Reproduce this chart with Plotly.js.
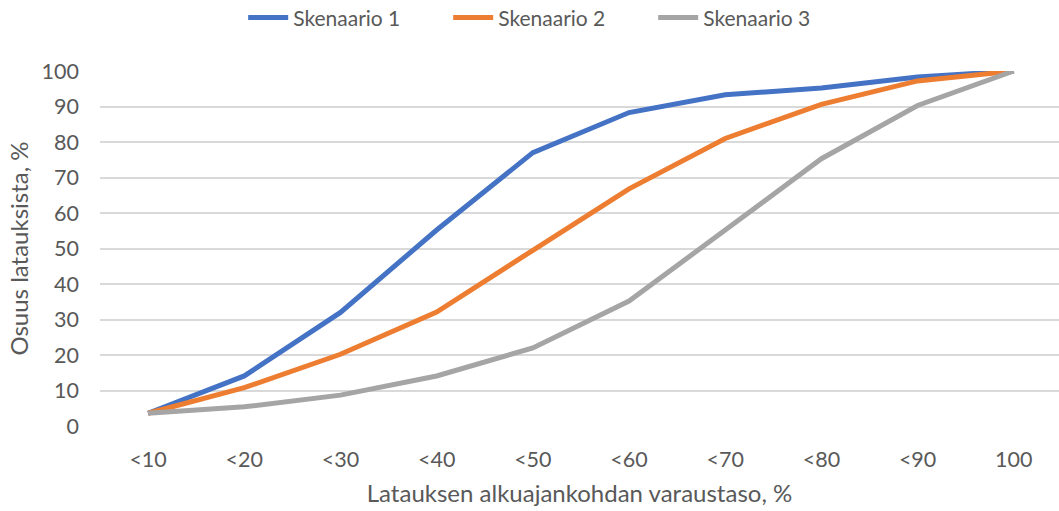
<!DOCTYPE html>
<html>
<head>
<meta charset="utf-8">
<script src="https://cdn.plot.ly/plotly-3.0.1.min.js"></script>
<style>html,body{margin:0;padding:0;background:#fff;}#chart{width:1059px;height:511px;}</style>
</head>
<body>
<div id="chart"></div>
<script>
const categories = ["<10", "<20", "<30", "<40", "<50", "<60", "<70", "<80", "<90", "100"];
const skenaario1 = [3.6, 14.1, 32.0, 55.2, 77.0, 88.3, 93.3, 95.2, 98.3, 100];
const skenaario2 = [3.6, 10.8, 20.2, 32.1, 49.5, 66.8, 81.0, 90.6, 97.2, 100];
const skenaario3 = [3.6, 5.4, 8.7, 14.1, 22.0, 35.2, 55.2, 75.3, 90.3, 100];
const seriesNames = ["Skenaario 1", "Skenaario 2", "Skenaario 3"];
const colors = ["#4472C4", "#ED7D31", "#A5A5A5"];

const allSeries = [skenaario1, skenaario2, skenaario3];
const traces = allSeries.map((vals, i) => ({
  x: categories,
  y: vals,
  name: seriesNames[i],
  type: "scatter",
  mode: "lines",
  line: {color: colors[i], width: 5}
}));

const fam = "Lato, 'Open Sans', sans-serif";
const grey = "#595959";

const layout = {
  width: 1059,
  height: 511,
  margin: {l: 100, r: 0, t: 71, b: 85},
  paper_bgcolor: "#ffffff",
  plot_bgcolor: "#ffffff",
  font: {family: fam, color: grey, size: 20},
  showlegend: true,
  legend: {
    orientation: "h",
    xref: "container", yref: "container",
    x: 0.52, xanchor: "center",
    y: 0.965, yanchor: "middle",
    font: {family: fam, color: grey, size: 21},
    entrywidth: 150,
    entrywidthmode: "pixels",
    itemwidth: 40
  },
  xaxis: {
    type: "category",
    range: [-0.5, 9.47],
    showgrid: false,
    zeroline: false,
    showline: false,
    ticks: "",
    tickfont: {family: fam, color: grey, size: 21.5},
    ticklabelstandoff: 18,
    title: {text: "Latauksen alkuajankohdan varaustaso, %", font: {family: fam, color: grey, size: 24}, standoff: 14}
  },
  yaxis: {
    range: [0, 100],
    dtick: 10,
    showgrid: true,
    gridcolor: "#D9D9D9",
    gridwidth: 2,
    zeroline: false,
    showline: false,
    ticks: "",
    tickfont: {family: fam, color: grey, size: 21.5},
    ticklabelstandoff: 20,
    title: {text: "Osuus latauksista, %", font: {family: fam, color: grey, size: 24}, standoff: 6}
  }
};

Plotly.newPlot("chart", traces, layout, {displayModeBar: false, staticPlot: true});
</script>
</body>
</html>
